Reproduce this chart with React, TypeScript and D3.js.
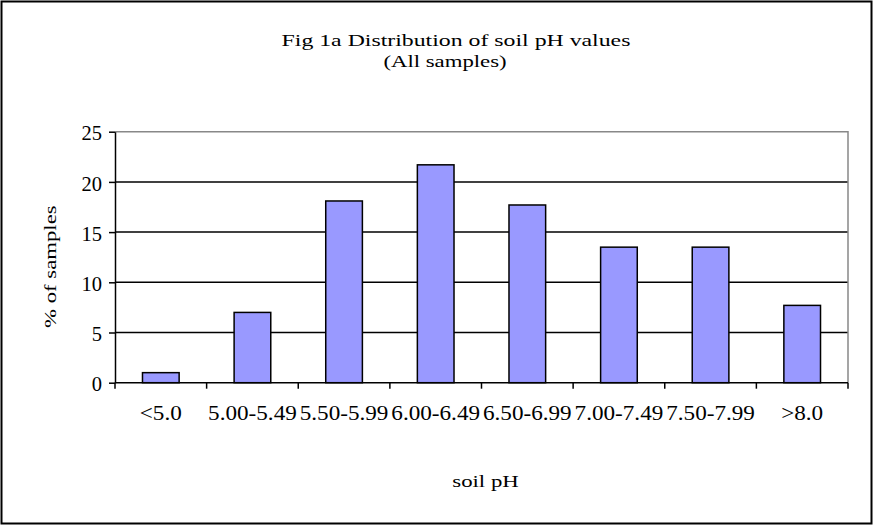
import React, { useRef, useEffect } from 'react';
import * as d3 from 'd3';

const categories = ['<5.0', '5.00-5.49', '5.50-5.99', '6.00-6.49', '6.50-6.99', '7.00-7.49', '7.50-7.99', '>8.0'];
const percentages = [1.0, 7.0, 18.1, 21.7, 17.7, 13.5, 13.5, 7.7];
const yTicks = [0, 5, 10, 15, 20, 25];
const titleLines = ['Fig 1a Distribution of soil pH values', '(All samples)'];

const App = () => {
  const svgRef = useRef<SVGSVGElement>(null);

  useEffect(() => {
    const svg = d3.select(svgRef.current);
    svg.selectAll('*').remove();

    const W = 875;
    const H = 526;
    const plot = { left: 115, top: 131.7, right: 848, bottom: 382.7 };
    const font = '"Liberation Serif", "Times New Roman", serif';
    const tickFont = '20.5px';
    // titles in the original are rendered wide (stretched horizontally)
    const titleFont = '17px';
    const stretch = 1.34;

    svg.attr('width', W).attr('height', H);

    // outer frame
    svg.append('rect')
      .attr('x', 1.5).attr('y', 1.5)
      .attr('width', 870).attr('height', 522)
      .attr('fill', '#fff')
      .attr('stroke', '#000')
      .attr('stroke-width', 2);

    const x = d3.scaleBand()
      .domain(categories)
      .range([plot.left, plot.right])
      .padding(0);

    const y = d3.scaleLinear()
      .domain([0, 25])
      .range([plot.bottom, plot.top]);

    // gridlines
    svg.append('g')
      .selectAll('line')
      .data(yTicks.filter(t => t > 0 && t < 25))
      .enter()
      .append('line')
      .attr('x1', plot.left).attr('x2', plot.right)
      .attr('y1', d => y(d)).attr('y2', d => y(d))
      .attr('stroke', '#000')
      .attr('stroke-width', 1.5);

    // plot border top/right (gray)
    svg.append('path')
      .attr('d', `M${plot.left},${y(25)}H${plot.right}V${plot.bottom}`)
      .attr('fill', 'none')
      .attr('stroke', '#888')
      .attr('stroke-width', 1.5);

    // bars
    const barW = x.bandwidth() * 0.4;
    svg.append('g')
      .selectAll('rect')
      .data(percentages)
      .enter()
      .append('rect')
      .attr('x', (d, i) => (x(categories[i]) as number) + x.bandwidth() / 2 - barW / 2)
      .attr('y', d => y(d))
      .attr('width', barW)
      .attr('height', d => y(0) - y(d))
      .attr('fill', '#9999ff')
      .attr('stroke', '#000')
      .attr('stroke-width', 1.5);

    // y axis
    const yAxis = svg.append('g')
      .attr('transform', `translate(${plot.left},0)`)
      .call(d3.axisLeft(y).tickValues(yTicks).tickSize(6).tickPadding(7).tickSizeOuter(0));
    yAxis.select('.domain').attr('stroke', '#000').attr('stroke-width', 1.5);
    yAxis.selectAll('.tick line').attr('stroke', '#000').attr('stroke-width', 1.5);
    yAxis.selectAll('text')
      .attr('fill', '#000')
      .attr('dy', '0.4em')
      .style('font-family', font)
      .style('font-size', tickFont);

    // x axis
    const tickPositions = d3.range(categories.length + 1).map(i => plot.left + i * x.step());
    const xAxisG = svg.append('g');
    xAxisG.append('line')
      .attr('x1', plot.left).attr('x2', plot.right)
      .attr('y1', plot.bottom).attr('y2', plot.bottom)
      .attr('stroke', '#000')
      .attr('stroke-width', 1.5);
    xAxisG.selectAll('.xtick')
      .data(tickPositions)
      .enter()
      .append('line')
      .attr('class', 'xtick')
      .attr('x1', d => d).attr('x2', d => d)
      .attr('y1', plot.bottom).attr('y2', plot.bottom + 6)
      .attr('stroke', '#000')
      .attr('stroke-width', 1.5);
    xAxisG.selectAll('.xlabel')
      .data(categories)
      .enter()
      .append('text')
      .attr('class', 'xlabel')
      .attr('transform', d => `translate(${(x(d) as number) + x.bandwidth() / 2},420) scale(1.13,1)`)
      .attr('text-anchor', 'middle')
      .style('font-family', font)
      .style('font-size', tickFont)
      .attr('fill', '#000')
      .text(d => d);

    const wideText = (cx: number, cy: number, rotate: number, label: string, sx = stretch) => {
      svg.append('text')
        .attr('transform', `translate(${cx},${cy}) rotate(${rotate}) scale(${sx},1)`)
        .attr('text-anchor', 'middle')
        .style('font-family', font)
        .style('font-size', titleFont)
        .attr('fill', '#000')
        .text(label);
    };

    // title (two lines)
    wideText(456, 45.7, 0, titleLines[0], 1.4);
    wideText(445, 66.7, 0, titleLines[1]);

    // axis titles
    wideText(485.5, 486.7, 0, 'soil pH');
    wideText(56, 266.7, -90, '% of samples');
  }, []);

  return (
    <div style={{ position: 'fixed', left: 0, top: 0, background: '#fff' }}>
      <svg ref={svgRef} style={{ display: 'block' }} />
    </div>
  );
};

export default App;
